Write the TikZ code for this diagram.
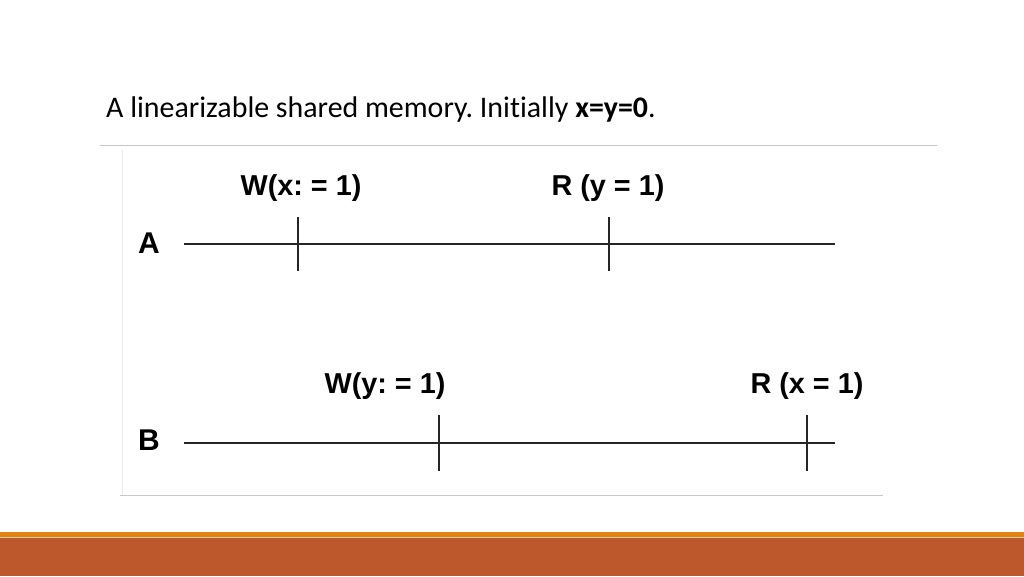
\documentclass[tikz,border=0pt]{standalone}
\usepackage{fontspec}
\setmainfont{Carlito}[Ligatures=NoCommon]
\newfontfamily\labelfont{Liberation Sans}
\usetikzlibrary{positioning, calc}
\definecolor{barorange}{RGB}{228, 131, 18}
\definecolor{barbrown}{RGB}{189, 88, 44}
\definecolor{rulegray}{RGB}{200, 200, 200}
\tikzset{
  opname/.style={font=\labelfont\bfseries\fontsize{28.8}{31}\selectfont, inner sep=0pt},
  procname/.style={font=\labelfont\bfseries\fontsize{30}{32}\selectfont, inner sep=0pt},
  timeline/.style={line width=1.7pt, black!85},
  tick/.style={line width=1.7pt, black!85}
}
\frenchspacing
\begin{document}
\begin{tikzpicture}[x=1pt, y=-1pt]
  \useasboundingbox (0,0) rectangle (1024,576);
  \fill[white] (0,0) rectangle (1024,576);

  % Title
  \node[anchor=base west, inner sep=0pt, font=\fontsize{29.9}{32}\selectfont] (title) at (106,117)
    {A linearizable shared memory. Initially \textbf{x=y=0}.};
  \draw[rulegray, line width=1pt] (100,145) -- (937,145);

  % Picture frame
  \draw[black!8, line width=0.8pt] (122,150) -- (122,495);
  \draw[rulegray, line width=0.8pt] (120,495.5) -- (883,495.5);

  % Process A
  \node[procname] (pA) at (149,243) {A};
  \coordinate (aStart) at (184,244);
  \coordinate (aEnd) at (835,244);
  \draw[timeline] (aStart) -- (aEnd);
  \foreach \x/\lx/\name/\txt in {298/301/wx/{W(x: = 1)}, 609/608/ry/{R (y = 1)}}{
    \coordinate (\name) at (\x,244);
    \draw[tick] ($(\name)+(0,-27)$) -- ($(\name)+(0,27)$);
    \node[opname] (\name lbl) at (\lx,188) {\txt};
  }

  % Process B
  \node[procname] (pB) at (149,440) {B};
  \coordinate (bStart) at (184,443);
  \coordinate (bEnd) at (835,443);
  \draw[timeline] (bStart) -- (bEnd);
  \foreach \x/\lx/\name/\txt in {439/385/wy/{W(y: = 1)}, 807/807/rx/{R (x = 1)}}{
    \coordinate (\name) at (\x,443);
    \draw[tick] ($(\name)+(0,-28)$) -- ($(\name)+(0,28)$);
    \node[opname] (\name lbl) at (\lx,386) {\txt};
  }

  % Footer bars
  \fill[barorange] (0,532) rectangle (1024,537);
  \fill[barorange!40] (0,537) rectangle (1024,538);
  \fill[barbrown] (0,538) rectangle (1024,576);
\end{tikzpicture}
\end{document}
